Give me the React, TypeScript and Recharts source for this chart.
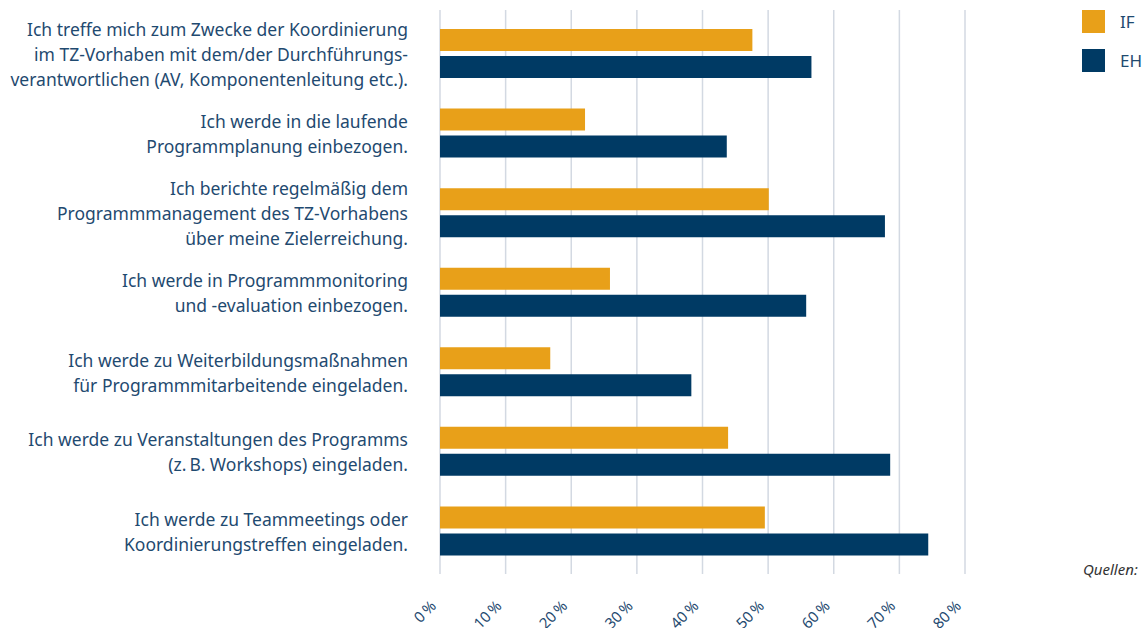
import React from 'react';
import { BarChart, Bar, XAxis, YAxis, CartesianGrid } from 'recharts';

const categories: string[] = [
  'Ich treffe mich zum Zwecke der Koordinierung\nim TZ-Vorhaben mit dem/der Durchführungs-\nverantwortlichen (AV, Komponentenleitung etc.).',
  'Ich werde in die laufende\nProgrammplanung einbezogen.',
  'Ich berichte regelmäßig dem\nProgrammmanagement des TZ-Vorhabens\nüber meine Zielerreichung.',
  'Ich werde in Programmmonitoring\nund -evaluation einbezogen.',
  'Ich werde zu Weiterbildungsmaßnahmen\nfür Programmmitarbeitende eingeladen.',
  'Ich werde zu Veranstaltungen des Programms\n(z.\u202FB. Workshops) eingeladen.',
  'Ich werde zu Teammeetings oder\nKoordinierungstreffen eingeladen.',
];
const ifValues: number[] = [47.6, 22.1, 50.1, 25.9, 16.8, 43.9, 49.5];
const ehValues: number[] = [56.6, 43.7, 67.8, 55.8, 38.3, 68.6, 74.4];
const xTicks: number[] = [0, 10, 20, 30, 40, 50, 60, 70, 80];
const seriesNames = ['IF', 'EH'];

const ORANGE = '#E8A019';
const NAVY = '#003A64';
const TEXT = '#1f4a70';
const GRID = '#d3d9e2';
const FONT = '"Noto Sans", "Open Sans", sans-serif';

const data = categories.map((c, i) => ({ name: c, IF: ifValues[i], EH: ehValues[i] }));

const YTick = (props: any) => {
  const { x, y, payload } = props;
  const lines: string[] = String(payload.value).split('\n');
  const lh = 25;
  const start = y - ((lines.length - 1) * lh) / 2;
  return (
    <text x={x} y={start} textAnchor="end" fill={TEXT} fontSize={17.5} fontFamily={FONT} dominantBaseline="central">
      {lines.map((l, i) => (
        <tspan key={i} x={x - 24} y={start + i * lh} dominantBaseline="central">{l}</tspan>
      ))}
    </text>
  );
};

const XTick = (props: any) => {
  const { x, y, payload } = props;
  const ax = x - 3;
  const ay = y + 28;
  return (
    <text x={ax} y={ay} textAnchor="end" fill={TEXT} fontSize={15} fontFamily={FONT} transform={`rotate(-45, ${ax}, ${ay})`}>
      {`${payload.value}\u202F%`}
    </text>
  );
};

const VGrid = (props: any) => {
  const { x1, x2, y1, y2 } = props;
  return <line x1={x1} x2={x2} y1={y1 - 4} y2={y2 + 3} stroke={GRID} strokeWidth={1.5} />;
};

export default function App() {
  return (
    <div style={{ position: 'absolute', left: 0, top: 0, width: 1145, height: 628, background: '#fff' }}>
      <BarChart
        width={1145}
        height={628}
        data={data}
        layout="vertical"
        margin={{ top: 14, right: 180, bottom: 0, left: 0 }}
        barSize={22}
        barGap={5}
      >
        <CartesianGrid horizontal={false} vertical={VGrid as any} />
        <XAxis
          type="number"
          domain={[0, 80]}
          ticks={xTicks}
          axisLine={false}
          tickLine={false}
          height={57}
          tick={<XTick />}
          interval={0}
        />
        <YAxis
          type="category"
          dataKey="name"
          width={440}
          axisLine={false}
          tickLine={false}
          tick={<YTick />}
          interval={0}
        />
        <Bar dataKey="IF" name={seriesNames[0]} fill={ORANGE} isAnimationActive={false} />
        <Bar dataKey="EH" name={seriesNames[1]} fill={NAVY} isAnimationActive={false} />
      </BarChart>
      <div style={{ position: 'absolute', left: 1082, top: 10, width: 23, height: 23, background: ORANGE }} />
      <div style={{ position: 'absolute', left: 1120, top: 10, height: 23, lineHeight: '23px', fontFamily: FONT, fontSize: 17, color: TEXT }}>{seriesNames[0]}</div>
      <div style={{ position: 'absolute', left: 1082, top: 49, width: 23, height: 23, background: NAVY }} />
      <div style={{ position: 'absolute', left: 1120, top: 49, height: 23, lineHeight: '23px', fontFamily: FONT, fontSize: 17, color: TEXT }}>{seriesNames[1]}</div>
      <div style={{ position: 'absolute', left: 1083, top: 559, lineHeight: '20px', fontFamily: FONT, fontSize: 15, fontStyle: 'italic', color: '#333' }}>Quellen:</div>
    </div>
  );
}
